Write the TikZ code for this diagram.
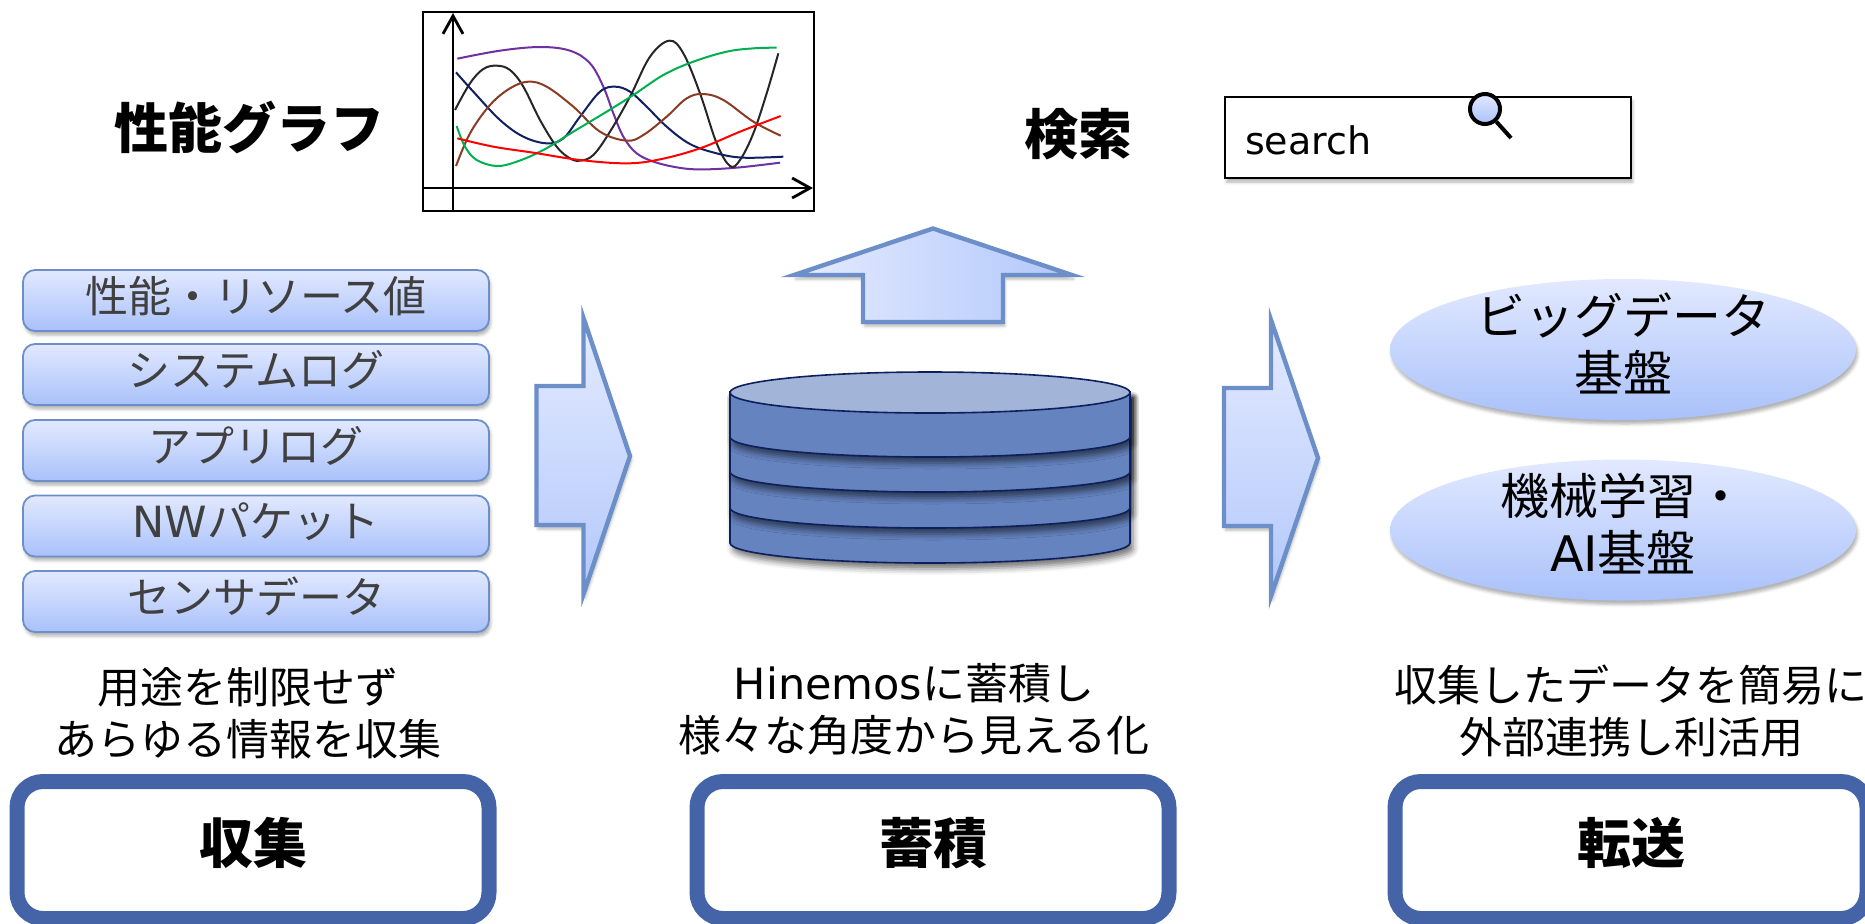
\documentclass[tikz,border=0pt]{standalone}
\usepackage{fontspec}
\usepackage{xcolor}
\setmainfont{Noto Sans CJK JP}
\newfontfamily\latinfont{DejaVu Sans}
\usetikzlibrary{arrows.meta,positioning,shapes.geometric,shadows,shadows.blur}
\definecolor{edgeblue}{HTML}{6C8EC9}
\definecolor{gradtop}{HTML}{E2E9FF}
\definecolor{gradbot}{HTML}{A9C1FA}
\definecolor{stepblue}{HTML}{4564A8}
\definecolor{dbside}{HTML}{6583BF}
\definecolor{dbcap}{HTML}{A2B4D8}
\definecolor{dbline}{HTML}{0E1F5E}
\definecolor{srctext}{HTML}{404040}
\newcommand{\lat}[1]{{\latinfont #1}}
\newcommand{\twolines}[1]{\raisebox{-3pt}[0pt][0pt]{\parbox[c]{160pt}{\centering #1}}}
\tikzset{
  softshadow/.style = {blur shadow = {shadow xshift = .8pt, shadow yshift = -2pt, shadow opacity = 30, shadow blur radius = 1.5pt}},
  darkshadow/.style = {blur shadow = {shadow xshift = 1.5pt, shadow yshift = -3pt, shadow opacity = 55, shadow blur radius = 3pt}},
  srcbox/.style = {draw = edgeblue, line width = .9pt, rounded corners = 6pt, top color = gradtop, bottom color = gradbot,
    minimum width = 233pt, minimum height = 30.5pt, inner sep = 0pt, text = srctext, font = \fontsize{21.5}{26}\selectfont,
    text height = 18pt, text depth = 6.5pt, softshadow},
  platform/.style = {ellipse, top color = gradtop, bottom color = gradbot, minimum width = 233pt, minimum height = 70.5pt,
    inner sep = 0pt, font = \fontsize{24.5}{28.5}\selectfont, softshadow},
  blockarrow/.style = {draw = edgeblue, line width = 2.2pt, miter limit = 10, softshadow},
  caption/.style = {align = center, font = \fontsize{21.5}{26}\selectfont},
  stepbox/.style = {draw = stepblue, line width = 7.5pt, rounded corners = 13pt, fill = white, minimum width = 236pt,
    minimum height = 68.5pt, inner sep = 0pt, font = \fontsize{27}{30}\selectfont\bfseries, text height = 23pt, text depth = 10pt},
  heading/.style = {font = \fontsize{27}{30}\selectfont\bfseries},
  curve/.style = {line width = 1pt},
  axis/.style = {line width = 1.4pt, -{Straight Barb[length = 9pt, width = 10pt, line width = 1.4pt]}},
  dblayer/.style = {draw = dbline, line width = .8pt, fill = dbside, darkshadow}
}
\begin{document}
\begin{tikzpicture}[x = .5pt, y = -.5pt]
    \useasboundingbox (0,0) rectangle (1865,923);
    % headings
    \node[heading] (graphtitle) at (249,127) {性能グラフ};
    \node[heading] (searchtitle) at (1078,134) {検索};
    % performance graph
    \node[draw, line width = .8pt, minimum width = 195.5pt, minimum height = 99.5pt, inner sep = 0pt] (frame) at (618.5,111.5) {};
    \begin{scope}[shift = {(400,0)}, x = .16667pt, y = -.16667pt]
      \draw[curve, color = {rgb,255:red,112;green,48;blue,160}] plot[smooth, tension = .6] coordinates {(172,176) (300,152) (420,141) (510,152) (570,190) (610,260) (640,340) (670,410) (710,460) (770,488) (850,505) (920,508) (1020,502) (1140,488)};
      \draw[curve, color = {rgb,255:red,38;green,38;blue,38}] plot[smooth, tension = .6] coordinates {(165,330) (210,250) (250,207) (290,197) (330,210) (370,260) (420,360) (470,440) (510,475) (540,482) (580,465) (630,395) (690,290) (750,170) (808,122) (850,160) (900,280) (950,430) (990,498) (1020,480) (1060,400) (1100,280) (1135,160)};
      \draw[curve, color = {rgb,255:red,15;green,31;blue,95}] plot[smooth, tension = .6] coordinates {(168,217) (220,275) (300,360) (370,410) (440,430) (490,415) (540,350) (600,275) (645,260) (690,275) (740,320) (800,380) (870,432) (950,460) (1030,473) (1150,470)};
      \draw[curve, color = {rgb,255:red,139;green,58;blue,36}] plot[smooth, tension = .6] coordinates {(168,498) (210,400) (270,315) (330,265) (385,245) (440,260) (520,320) (600,395) (680,422) (730,405) (800,350) (860,295) (910,282) (970,300) (1060,365) (1142,407)};
      \draw[curve, color = {rgb,255:red,0;green,176;blue,80}] plot[smooth, tension = .6] coordinates {(170,378) (195,440) (230,480) (290,498) (350,485) (430,450) (520,395) (620,335) (700,285) (790,225) (880,185) (980,155) (1060,145) (1130,143)};
      \draw[curve, color = red] plot[smooth, tension = .6] coordinates {(172,415) (280,440) (400,458) (540,480) (680,490) (780,478) (900,445) (1020,395) (1142,348)};
    \end{scope}
    \draw[axis] (453,211) -- (453,13);
    \draw[axis] (423,188) -- (813,188);
    % search box
    \node[draw, line width = .7pt, minimum width = 203pt, minimum height = 40.5pt, inner xsep = 10pt, inner ysep = 0pt,
      text width = 183pt, align = left, font = \fontsize{19}{22}\latinfont, text height = 16.8pt, text depth = 0pt, softshadow, fill = white] (searchbox) at (1428,137.5) {search};
    \node[circle, draw, line width = 2pt, minimum size = 15pt, inner sep = 0pt, top color = gradtop, bottom color = gradbot] (lens) at (1485,109) {};
    \coordinate (lenstail) at (1511,138);
    \draw[line width = 2pt] (lens) -- (lenstail);
    % sources
    \node[srcbox] (perf) at (256,300.5) {性能・リソース値};
    \node[srcbox] (syslog) at (256,374.5) {システムログ};
    \node[srcbox] (applog) at (256,450.5) {アプリログ};
    \node[srcbox] (packet) at (256,526) {\lat{NW}パケット};
    \node[srcbox] (sensor) at (256,601.5) {センサデータ};
    % block arrows
    \shade[blockarrow, top color = gradtop!90!white, bottom color = gradbot!90!white] (536.5,386) -- (583.5,386) -- (583.5,318) -- (630,456) -- (583.5,594) -- (583.5,525) -- (536.5,525) -- cycle;
    \shade[blockarrow, top color = gradtop!90!white, bottom color = gradbot!90!white] (1224,388) -- (1271,388) -- (1271,320) -- (1318,458) -- (1271,596) -- (1271,526) -- (1224,526) -- cycle;
    \shade[blockarrow, left color = gradtop!90!white, right color = gradbot!90!white] (863,322) -- (863,275) -- (794,275) -- (933,228.5) -- (1072,275) -- (1003,275) -- (1003,322) -- cycle;
    % database
    \foreach \bot in {543,508,472,437} {
      \draw[dblayer] (730,392) -- (730,\bot) arc[start angle = 180, end angle = 0, x radius = 200, y radius = 20] -- (1130,392) -- cycle;
    }
    \draw[draw = dbline, line width = .8pt, fill = dbcap] (930,392.5) ellipse [x radius = 200, y radius = 20.5];
    % platforms
    \node[platform] (bigdata) at (1623,349.5) {\twolines{ビッグデータ\\基盤}};
    \node[platform] (aibase) at (1623,530) {\twolines{機械学習・\\\lat{AI}基盤}};
    % captions
    \node[caption] (collectnote) at (248,713.5) {用途を制限せず\\あらゆる情報を収集};
    \node[caption] (storenote) at (914,709) {\lat{Hinemos}に蓄積し\\様々な角度から見える化};
    \node[caption] (sendnote) at (1631,711) {収集したデータを簡易に\\外部連携し利活用};
    % steps
    \node[stepbox] (collect) at (253,850) {収集};
    \node[stepbox] (store) at (933,850) {蓄積};
    \node[stepbox] (send) at (1631,850) {転送};
  \end{tikzpicture}
\end{document}
